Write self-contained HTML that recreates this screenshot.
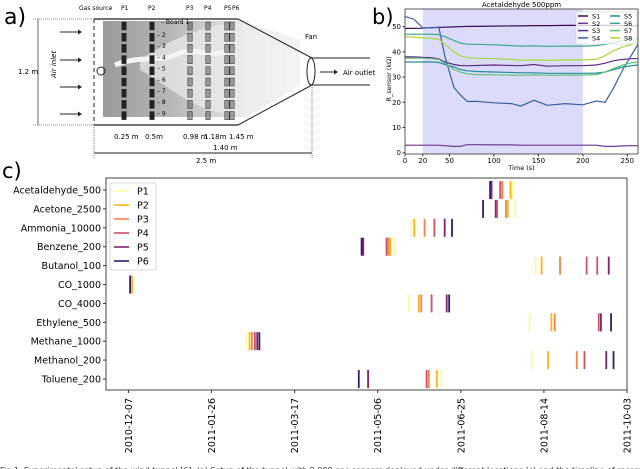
<!DOCTYPE html>
<html><head><meta charset="utf-8"><style>
html,body{margin:0;padding:0;background:#fff;}
body{width:640px;height:469px;overflow:hidden;position:relative;font-family:"DejaVu Sans","Liberation Sans",sans-serif;}
svg{position:absolute;left:0;top:0;}
text{font-family:"DejaVu Sans","Liberation Sans",sans-serif;}
</style></head><body>
<svg id="fig" width="640" height="469" viewBox="0 0 640 469">
<defs>
<linearGradient id="gasg" x1="0" x2="1" y1="0" y2="0">
<stop offset="0" stop-color="#9a9a9a"/><stop offset="0.5" stop-color="#b8b8b8"/><stop offset="1" stop-color="#e8e8e8"/></linearGradient>
<linearGradient id="plume" x1="0" x2="1"><stop offset="0" stop-color="#dcdcdc"/><stop offset="1" stop-color="#f2f2f2"/></linearGradient>
</defs>
<g id="panel-a">
<text x="4" y="24" font-size="22">a)</text>
<rect x="103" y="21" width="140" height="96" fill="url(#gasg)"/>
<path d="M140 60 C170 40 200 25 245 22 L300 40 L300 85 L245 118 L210 110 C180 100 160 80 140 70 Z" fill="url(#plume)" opacity="0.9"/>
<path d="M115 65 C140 55 160 62 175 55 C195 45 210 60 230 50" stroke="#f4f4f4" stroke-width="5" fill="none"/>
<line x1="94" y1="19" x2="238" y2="19" stroke="#222" stroke-width="1.2"/>
<line x1="94" y1="125" x2="238" y2="125" stroke="#222" stroke-width="1.2"/>
<line x1="238" y1="19" x2="312" y2="58" stroke="#222" stroke-width="1"/>
<line x1="238" y1="125" x2="312" y2="85" stroke="#222" stroke-width="1"/>
<line x1="312" y1="58" x2="370" y2="58" stroke="#222" stroke-width="1"/>
<line x1="312" y1="85" x2="370" y2="85" stroke="#222" stroke-width="1"/>
<ellipse cx="311" cy="71.5" rx="4" ry="13.5" fill="#fff" stroke="#222"/>
<line x1="94" y1="19" x2="94" y2="125" stroke="#222" stroke-dasharray="4,3"/>
<circle cx="101" cy="71" r="4" fill="none" stroke="#222"/>
<g id="sensors"></g>
<line x1="38" y1="19" x2="38" y2="125" stroke="#444" stroke-width="0.8"/>
<line x1="33" y1="19" x2="94" y2="19" stroke="#888" stroke-dasharray="1,1"/>
<line x1="33" y1="125" x2="94" y2="125" stroke="#888" stroke-dasharray="1,1"/>
<text x="18" y="74" font-size="7">1.2 m</text>
<text transform="translate(56,78) rotate(-90)" font-size="7" font-style="italic">Air inlet</text>
<g stroke="#222" stroke-width="1"><line x1="60" y1="32" x2="78" y2="32"/><line x1="60" y1="60" x2="78" y2="60"/><line x1="60" y1="87" x2="78" y2="87"/><line x1="60" y1="114" x2="78" y2="114"/></g>
<g fill="#222"><path d="M78 29.5 L82 32 L78 34.5Z"/><path d="M78 57.5 L82 60 L78 62.5Z"/><path d="M78 84.5 L82 87 L78 89.5Z"/><path d="M78 111.5 L82 114 L78 116.5Z"/></g>
<line x1="320" y1="72" x2="334" y2="72" stroke="#222"/><path d="M334 69.5 L338 72 L334 74.5Z" fill="#222"/>
<text x="343" y="75" font-size="7">Air outlet</text>
<text x="305" y="39" font-size="7">Fan</text>
<g font-size="6">
<text x="79" y="10">Gas source</text><text x="121" y="10">P1</text><text x="148" y="10">P2</text><text x="186" y="10">P3</text><text x="204" y="10">P4</text><text x="224" y="10">P5</text><text x="232" y="10">P6</text></g>
<g font-size="7">
<text x="161" y="24" font-size="6">– Board 1</text>
<text x="114" y="139">0.25 m</text><text x="145" y="139">0.5m</text><text x="183" y="139">0.98 m</text><text x="204" y="139">1.18m</text><text x="229" y="139">1.45 m</text><text x="213" y="150">1.40 m</text>
<text x="196" y="163">2.5 m</text></g>
<line x1="94" y1="153" x2="312" y2="153" stroke="#222"/>
<line x1="94" y1="125" x2="94" y2="158" stroke="#888" stroke-dasharray="1,1"/>
<line x1="312" y1="85" x2="312" y2="158" stroke="#888" stroke-dasharray="1,1"/>
</g>
<g id="panel-b"></g>
<g id="panel-c"></g>
<text x="0" y="473" font-size="8" fill="#333">Fig 1. Experimental setup of the wind tunnel [6]. (a) Setup of the tunnel with 9 000 gas sensors deployed under different locations (c) and the timeline of recordings</text>
</svg>
<script>
const bSeriesNames = ["S1","S2","S3","S4","S5","S6","S7","S8"];
const bTimes = [0,10,20,30,38,45,55,62,70,80,100,120,130,145,160,180,200,215,225,235,245,255,262];
const bS1 = [49.3,49.3,49.4,49.6,49.7,49.8,49.9,50,50.1,50.1,50.2,50.3,50.3,50.4,50.4,50.5,50.5,50.5,50.5,50.5,50.4,50.4,50.4];
const bS2 = [3,3,3,3,3,2.8,2.5,2.5,3.2,3.2,3.1,3.1,3,3,3,3,3,3,2.5,2.5,2.7,2.8,2.8];
const bS3 = [38,38,37.8,37.7,37.2,36,35,34.6,34.5,34.6,34.8,34.6,34.5,35,34.3,34.5,34.5,34.8,35.5,36.5,37,37.3,37.3];
const bS4 = [54,53,49.5,49.5,49.8,38,26,23,20.3,20.4,19.8,19.5,18.5,20.8,18.8,19.5,19,20.5,20,26,33,39,43];
const bS5 = [36,36,36,36,35.8,35,34,33,32.5,32.2,32,31.8,31.7,31.7,31.5,31.5,31.5,31.6,32,33,34,34.5,34.8];
const bS6 = [47,47,47,47,46.8,46,44.5,43.5,43,43,42.8,42.5,42.3,42.4,42.2,42.3,42.3,42.5,43,43.8,44.5,45,45.3];
const bS7 = [37.5,37.5,37.5,37.3,37,35.5,33,32,31.3,31,30.9,30.8,30.7,30.9,30.7,30.8,30.8,31,32,33.5,34.8,35.7,36];
const bS8 = [46,45.8,45.5,45.3,45,43,40,38.5,37.7,37.5,37.3,37,36.7,36.8,36.6,36.8,36.8,37,38.5,40.5,42,43,43.5];
const bColors = ["#3b0f4f","#6d3a8e","#5a2d82","#3b5ea8","#2a8a9a","#3aa88a","#5ec27a","#a9d63a"];
const bTicksX = [0,20,50,100,150,200,250];
const bTicksY = [0,10,20,30,40,50];
const bShade = [20,200];

const cCategories = ["Acetaldehyde_500","Acetone_2500","Ammonia_10000","Benzene_200","Butanol_100","CO_1000","CO_4000","Ethylene_500","Methane_1000","Methanol_200","Toluene_200"];
const cPositions = ["P1","P2","P3","P4","P5","P6"];
const cColors = ["#fcf8a4","#fbb41a","#f4844a","#cd4f6a","#7f236e","#2e1d6e"];
const cEventCat = [0,0,0,0,0,0, 1,1,1,1,1,1, 2,2,2,2,2,2, 3,3,3,3,3,3, 4,4,4,4,4,4, 5,5, 6,6,6,6,6,6, 7,7,7,7,7,7, 8,8,8,8,8,8, 9,9,9,9,9,9, 10,10,10,10,10,10];
const cEventPos = [5,4,3,2,1,0, 5,4,3,2,1,0, 0,1,2,3,4,5, 5,4,3,2,1,0, 0,1,2,3,3,4, 5,1, 0,1,2,3,4,5, 0,1,2,3,4,5, 0,1,2,3,4,5, 0,1,2,3,4,5, 5,4,3,2,1,0];
const cEventDay = [217.6,218.5,223.7,225,229.9,231.1, 213.4,221,221.8,227.2,228.2,232.6, 170.3,172,178.2,184.1,190.3,194.7, 140.3,141.3,155.3,156.3,157.5,160, 245.1,248.6,259.7,275.7,282.1,289, 1,2.2, 168.8,174.7,176.2,182.4,191.5,193, 241.4,254.5,256.5,283,284.3,290.4, 71.1,72.9,74.3,76.1,77.5,78.8, 242.7,252.5,269.8,274.4,287.5,291.9, 138.6,144.2,179.4,180.7,185.6,188.3];
const cTickDays = [0,50,100,150,200,250,300];
const cTickLabels = ["2010-12-07","2011-01-26","2011-03-17","2011-05-06","2011-06-25","2011-08-14","2011-10-03"];

const NS = "http://www.w3.org/2000/svg";
function mk(parent, tag, attrs){const e=document.createElementNS(NS,tag);for(const k in attrs)e.setAttribute(k,attrs[k]);parent.appendChild(e);return e;}

(function(){
  const g=document.getElementById('sensors');
  const cols=[124,152,190,208,227,232];
  for(let c=0;c<cols.length;c++){
    for(let r=0;r<9;r++){
      const y=22+r*11.2;
      const el=mk(g,'rect',{x:cols[c]-2.2,y:y,width:4.4,height:8,fill:c<2?'#222':'#666',stroke:'#222','stroke-width':0.5,'fill-opacity':c<2?1:0.6});
      
      
    }
  }
  const lbl=['2','3','4','5','6','7','8','9'];
  for(let i=0;i<lbl.length;i++){
    const t=mk(g,'text',{x:157,y:37+i*11.2,'font-size':6});t.textContent='– '+lbl[i];
  }
})();

(function(){
  const g=document.getElementById('panel-b');
  const L=405,R=638,T=9,B=154, x0=0,x1=262, y0=-0.5,y1=57;
  const xs=v=>L+(v-x0)/(x1-x0)*(R-L);
  const ys=v=>B-(v-y0)/(y1-y0)*(B-T);
  let t=mk(g,'text',{x:372,y:24,'font-size':21});t.textContent='b)';
  
  
  const sh=mk(g,'rect',{x:xs(bShade[0]),y:T,width:xs(bShade[1])-xs(bShade[0]),height:B-T,fill:'#dcdcfa'});
  
  
  const series=[bS1,bS2,bS3,bS4,bS5,bS6,bS7,bS8];
  series.forEach((s,i)=>{
    const d=s.map((v,j)=>(j?'L':'M')+xs(bTimes[j]).toFixed(1)+' '+ys(v).toFixed(1)).join(' ');
    const p=mk(g,'path',{d:d,fill:'none',stroke:bColors[i],'stroke-width':1.2});
    
    
  });
  mk(g,'rect',{x:L,y:T,width:R-L,height:B-T,fill:'none',stroke:'#333','stroke-width':0.8});
  bTicksX.forEach(v=>{mk(g,'line',{x1:xs(v),x2:xs(v),y1:B,y2:B+2.5,stroke:'#333'});const tx=mk(g,'text',{x:xs(v),y:B+9,'font-size':7,'text-anchor':'middle'});tx.textContent=v;});
  bTicksY.forEach(v=>{mk(g,'line',{x1:L-2.5,x2:L,y1:ys(v),y2:ys(v),stroke:'#333'});const tx=mk(g,'text',{x:L-4,y:ys(v)+2.5,'font-size':7,'text-anchor':'end'});tx.textContent=v;});
  const xt=mk(g,'text',{x:(L+R)/2,y:B+16,'font-size':6.5,'text-anchor':'middle'});xt.textContent='Time (s)';
  
  
  const yt=mk(g,'text',{transform:`translate(${L-14},${(T+B)/2+20}) rotate(-90)`,'font-size':6.5});yt.textContent='R_sensor (kΩ)';
  
  
  const ti=mk(g,'text',{x:(L+R)/2,y:T-2,'font-size':7,'text-anchor':'middle'});ti.textContent='Acetaldehyde 500ppm';
  
  
  mk(g,'rect',{x:576,y:12,width:61,height:32,fill:'#fff','fill-opacity':0.8,stroke:'#ccc','stroke-width':0.5});
  bSeriesNames.forEach((n,i)=>{
    const col=Math.floor(i/4),row=i%4;
    const lx=578+col*32,ly=16+row*7.3;
    const ln=mk(g,'line',{x1:lx,x2:lx+10,y1:ly,y2:ly,stroke:bColors[i],'stroke-width':1.5});
    
    
    const tx=mk(g,'text',{x:lx+14,y:ly+2.5,'font-size':6.5});tx.textContent=n;
  });
})();

(function(){
  const g=document.getElementById('panel-c');
  const L=106,R=627,T=178,B=390, d0=-13.5, d1=300;
  const xs=d=>L+(d-d0)/(d1-d0)*(R-L);
  const rowH=(379-190)/10;
  const ys=i=>190+i*rowH;
  let t=mk(g,'text',{x:2,y:178,'font-size':21});t.textContent='c)';
  
  
  for(let k=0;k<cEventDay.length;k++){
    const r=mk(g,'rect',{x:xs(cEventDay[k])-0.9,y:ys(cEventCat[k])-9,width:1.8,height:18,fill:cColors[cEventPos[k]]});
    
    
  }
  mk(g,'rect',{x:L,y:T,width:R-L,height:B-T,fill:'none',stroke:'#333','stroke-width':0.9});
  cCategories.forEach((c,i)=>{
    mk(g,'line',{x1:L-3,x2:L,y1:ys(i),y2:ys(i),stroke:'#333'});
    const tx=mk(g,'text',{x:L-5,y:ys(i)+3.5,'font-size':9.5,'text-anchor':'end'});tx.textContent=c;
    
    
  });
  cTickDays.forEach((d,i)=>{
    mk(g,'line',{x1:xs(d),x2:xs(d),y1:B,y2:B+3,stroke:'#333'});
    const tx=mk(g,'text',{transform:`translate(${xs(d)+3.5},${B+8}) rotate(-90)`,'font-size':9.5,'text-anchor':'end'});tx.textContent=cTickLabels[i];
    
    
  });
  const lg=mk(g,'rect',{x:110,y:183,width:46,height:87,rx:2,fill:'#fff',stroke:'#ccc','stroke-width':0.8});
  
  
  cPositions.forEach((p,i)=>{
    const ly=191+i*14;
    const ln=mk(g,'line',{x1:114,x2:129,y1:ly,y2:ly,stroke:cColors[i],'stroke-width':1.6});
    
    
    const tx=mk(g,'text',{x:137,y:ly+3.5,'font-size':9.5});tx.textContent=p;
  });
})();
</script>
</body></html>
